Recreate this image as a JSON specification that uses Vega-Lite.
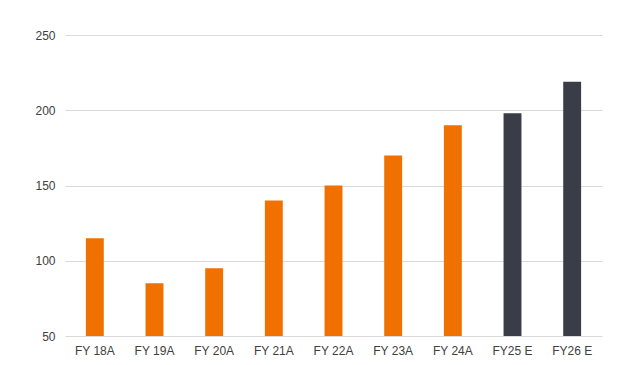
{
  "$schema": "https://vega.github.io/schema/vega-lite/v6.json",
  "width": 537,
  "height": 301,
  "autosize": {"type": "none"},
  "padding": {"left": 65, "top": 35, "right": 38, "bottom": 29},
  "background": "white",
  "config": {"view": {"stroke": null}, "font": "Liberation Sans"},
  "data": {
    "values": [
      {"year": "FY 18A", "value": 115, "type": "A"},
      {"year": "FY 19A", "value": 85, "type": "A"},
      {"year": "FY 20A", "value": 95, "type": "A"},
      {"year": "FY 21A", "value": 140, "type": "A"},
      {"year": "FY 22A", "value": 150, "type": "A"},
      {"year": "FY 23A", "value": 170, "type": "A"},
      {"year": "FY 24A", "value": 190, "type": "A"},
      {"year": "FY25 E", "value": 198, "type": "E"},
      {"year": "FY26 E", "value": 219, "type": "E"}
    ]
  },
  "mark": {"type": "bar"},
  "encoding": {
    "x": {
      "field": "year", "type": "nominal", "sort": null,
      "scale": {"paddingInner": 0.7, "paddingOuter": 0.35},
      "axis": {"title": null, "labelAngle": 0, "domain": false, "ticks": false, "grid": false, "labelFontSize": 12, "labelColor": "#404040", "labelPadding": 9}
    },
    "y": {
      "field": "value", "type": "quantitative",
      "scale": {"domain": [50, 250], "zero": false, "nice": false},
      "axis": {"title": null, "values": [50, 100, 150, 200, 250], "domain": false, "ticks": false, "gridColor": "#d9d9d9", "labelFontSize": 12, "labelColor": "#404040", "labelPadding": 10}
    },
    "y2": {"datum": 50},
    "color": {
      "field": "type", "type": "nominal",
      "scale": {"domain": ["A", "E"], "range": ["#f07000", "#3a3d48"]},
      "legend": null
    }
  }
}
